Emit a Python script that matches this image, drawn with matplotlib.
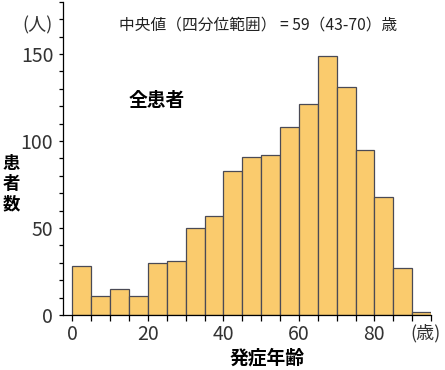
import numpy as np
import matplotlib.pyplot as plt

plt.rcParams['font.family'] = ['Noto Sans CJK JP', 'DejaVu Sans']

# 発症年齢のヒストグラム（5歳刻み）
bin_edges = list(range(0, 100, 5))
counts = [28, 11, 15, 11, 30, 31, 50, 57, 83, 91, 92, 108, 121, 149, 131, 95, 68, 27, 2]
x_ticks = [0, 20, 40, 60, 80]
y_ticks = [0, 50, 100, 150]

fig = plt.figure(figsize=(4.45, 3.7), dpi=100)
ax = fig.add_axes([0.1416, 0.1486, 0.827, 0.8465])

ax.bar(bin_edges[:-1], counts, width=5, align='edge',
       color='#FACB6D', edgecolor='#4a4a55', linewidth=0.9)

ax.set_xlim(-2.5, 95)
ax.set_ylim(0, 180)

ax.spines['top'].set_visible(False)
ax.spines['right'].set_visible(False)
ax.spines['left'].set_linewidth(0.9)
ax.spines['bottom'].set_linewidth(0.9)

ax.set_xticks(x_ticks)
ax.set_xticks(np.arange(0, 96, 5), minor=True)
ax.set_yticks(y_ticks)
ax.set_yticks(np.arange(0, 181, 10), minor=True)
ax.tick_params(axis='x', which='both', length=4.2, width=0.9, direction='out')
ax.tick_params(axis='y', which='both', length=3, width=0.9, direction='out')
ax.tick_params(axis='x', which='major', labelsize=14, labelcolor='#333333', pad=2.5)
ax.tick_params(axis='y', which='major', labelsize=14, labelcolor='#333333', pad=4)

# 単位
fig.text(425.5 / 445, 1 - 333 / 370, '(歳)', ha='center', va='center',
         fontsize=13, color='#333333')
fig.text(37.5 / 445, 1 - 25 / 370, '(人)', ha='center', va='center',
         fontsize=13, color='#333333')

# 注釈
fig.text(258.5 / 445, 1 - 25 / 370, '中央値（四分位範囲） = 59（43-70）歳',
         ha='center', va='center', fontsize=11.3, color='#222222')
ax.text(22.3, 123.5, '全患者', ha='center', va='center', fontsize=13.5,
        fontweight='bold')

# 軸ラベル
fig.text(266.7 / 445, 1 - 358 / 370, '発症年齢', ha='center', va='center',
         fontsize=13.5, fontweight='bold')
fig.text(11 / 445, 1 - 184 / 370, '患\n者\n数', ha='center', va='center',
         fontsize=12.5, fontweight='bold', linespacing=1.15)

fig.savefig('out.png', dpi=100)
